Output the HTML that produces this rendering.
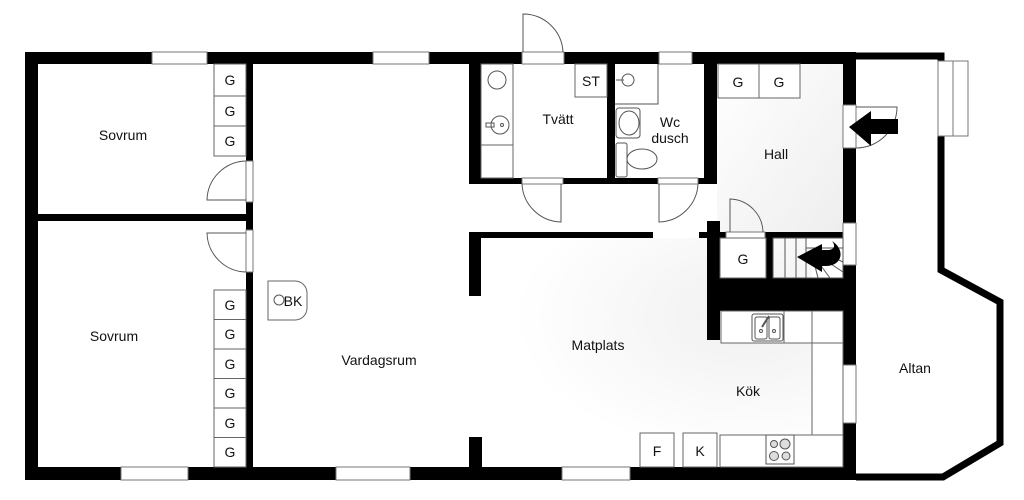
<!DOCTYPE html>
<html><head><meta charset="utf-8"><style>
html,body{margin:0;padding:0;background:#fff;width:1024px;height:500px;overflow:hidden}
svg{display:block}
text{font-family:"Liberation Sans",sans-serif;fill:#111}
</style></head><body>
<svg width="1024" height="500" viewBox="0 0 1024 500" xmlns="http://www.w3.org/2000/svg">
<defs>
<linearGradient id="g1" x1="0" y1="0" x2="1" y2="1">
<stop offset="0" stop-color="#fff"/><stop offset="1" stop-color="#eee"/></linearGradient>
<radialGradient id="g2" cx="0.8" cy="0.4" r="0.7">
<stop offset="0" stop-color="#f0f0f0"/><stop offset="1" stop-color="#fff"/></radialGradient>
</defs>
<rect x="717" y="64" width="126" height="168" fill="url(#g1)"/>
<rect x="482" y="238" width="330" height="197" fill="url(#g2)"/>
<g fill="#000">
<rect x="25" y="52" width="831" height="12"/>
<rect x="25" y="52" width="13" height="428"/>
<rect x="25" y="467" width="831" height="13"/>
<rect x="843" y="52" width="13" height="428"/>
<rect x="246" y="64" width="7" height="403"/>
<rect x="38" y="214" width="215" height="7"/>
<rect x="469" y="64" width="12" height="120"/>
<rect x="469" y="178" width="248" height="6"/>
<rect x="607" y="64" width="8" height="120"/>
<rect x="704" y="64" width="13" height="120"/>
<rect x="469" y="232" width="12" height="64"/>
<rect x="469" y="232" width="184" height="6"/>
<rect x="469" y="437" width="13" height="30"/>
<rect x="699" y="232" width="144" height="6"/>
<rect x="707" y="221" width="13" height="119"/>
<rect x="766" y="238" width="7" height="40"/>
<rect x="707" y="278" width="149" height="33"/>
</g>
<g fill="#fff" stroke="#777" stroke-width="1">
<rect x="152" y="52" width="55" height="12"/>
<rect x="373" y="52" width="56" height="12"/>
<rect x="659" y="52" width="33" height="12"/>
<rect x="121" y="467" width="67" height="13"/>
<rect x="336" y="467" width="74" height="13"/>
<rect x="562" y="467" width="68" height="13"/>
<rect x="843" y="105" width="13" height="43"/>
<rect x="843" y="223" width="13" height="42"/>
<rect x="843" y="365" width="13" height="58"/>
<rect x="246" y="161" width="7" height="41"/>
<rect x="246" y="230" width="7" height="42"/>
<rect x="522" y="52" width="42" height="12"/>
<rect x="522" y="178" width="41" height="6"/>
<rect x="658" y="178" width="40" height="6"/>
<rect x="726" y="232" width="39" height="6"/>
</g>
<g fill="none" stroke="#555" stroke-width="1">
<path d="M246 161 A40 40 0 0 0 207 200 L246 200"/>
<path d="M246 272 A40 40 0 0 1 207 233 L246 233"/>
<path d="M523 52 L523 14 A40 40 0 0 1 563 52"/>
<path d="M561 184 L561 222 A40 40 0 0 1 522 184"/>
<path d="M659 184 L659 222 A40 40 0 0 0 698 184"/>
<path d="M730 232 L730 199 A34 34 0 0 1 763 232"/>
<path d="M856 107 L897 107 A41 41 0 0 1 856 148"/>
</g>
<path d="M849 127 L871 111 L871 119 L898 119 L898 134 L871 134 L871 146 Z" fill="#000"/>
<path d="M856 56 L941 56 L941 270 L1000 302 L1000 443 L943 477 L856 477" fill="none" stroke="#000" stroke-width="7"/>
<g fill="#fff" stroke="#777"><rect x="938" y="61" width="15" height="75"/><rect x="953" y="61" width="15" height="75"/></g>
<g fill="#fff" stroke="#666" stroke-width="1">
<rect x="214" y="64" width="32" height="32"/><rect x="214" y="96" width="32" height="30"/><rect x="214" y="126" width="32" height="30"/>
<rect x="214" y="290" width="32" height="29.5"/><rect x="214" y="319.5" width="32" height="29.5"/><rect x="214" y="349" width="32" height="29.5"/>
<rect x="214" y="378.5" width="32" height="29.5"/><rect x="214" y="408" width="32" height="29.5"/><rect x="214" y="437.5" width="32" height="29.5"/>
<rect x="718" y="64" width="41" height="34"/><rect x="759" y="64" width="41" height="34"/>
<rect x="720" y="238" width="46" height="40"/>
<rect x="575" y="64" width="32" height="33"/>
<rect x="481" y="64" width="32" height="114"/>
<line x1="481" y1="145" x2="513" y2="145"/>
<path d="M268 281 L295 281 A12 12 0 0 1 307 293 L307 308 A12 12 0 0 1 295 320 L268 320 Z"/>
<rect x="721" y="311" width="122" height="32"/>
<line x1="784" y1="311" x2="784" y2="343"/><line x1="812" y1="311" x2="812" y2="435"/>
<rect x="812" y="343" width="31" height="92"/>
<rect x="720" y="435" width="123" height="32"/>
<rect x="640" y="433" width="34" height="34"/><rect x="683" y="433" width="34" height="34"/>
</g>
<g fill="none" stroke="#555" stroke-width="1">
<rect x="752" y="314" width="31" height="27" rx="2"/>
<rect x="755" y="317" width="12" height="22" rx="2"/><rect x="769" y="317" width="11" height="22" rx="2"/>
<line x1="762" y1="327" x2="769" y2="316" stroke-width="2"/>
<circle cx="761" cy="331" r="1.5"/><circle cx="774" cy="331" r="1.5"/>
<rect x="766" y="435" width="28" height="29" fill="#fff"/>
<circle cx="774" cy="444" r="3.5" fill="#ddd"/><circle cx="785" cy="444" r="5" fill="#ddd"/>
<circle cx="774" cy="456" r="4.5" fill="#ddd"/><circle cx="786" cy="456" r="4" fill="#ddd"/>
<circle cx="497" cy="80" r="9"/><circle cx="500" cy="125" r="9"/>
<rect x="486" y="123" width="8" height="4"/><circle cx="502" cy="125" r="1.5"/>
<polyline points="615,104 658,104 658,64"/>
<circle cx="628" cy="80" r="6"/><line x1="616" y1="80" x2="624" y2="80"/>
<rect x="616" y="108" width="24" height="30" rx="3"/>
<ellipse cx="629" cy="123" rx="10" ry="12"/>
<rect x="616" y="143" width="11" height="34" rx="2"/>
<ellipse cx="642" cy="159" rx="15" ry="10"/>
<circle cx="279" cy="300" r="5"/>
<rect x="773" y="238" width="70" height="40"/>
<line x1="785" y1="238" x2="785" y2="278"/><line x1="796" y1="238" x2="796" y2="278"/><line x1="806" y1="238" x2="806" y2="278"/>
<line x1="813" y1="248" x2="843" y2="262"/><line x1="813" y1="252" x2="843" y2="272"/>
<line x1="813" y1="255" x2="830" y2="278"/><line x1="813" y1="258" x2="818" y2="278"/>
<rect x="806" y="238" width="37" height="10" fill="#fff"/>
</g>
<path d="M832 241 C846 250 842 266 826 266 L822 266 L822 272 L797 257 L822 244 L822 250 L828 250 C834 250 836 246 832 241 Z" fill="#000"/>
<g font-size="14" text-anchor="middle">
<text x="123" y="140">Sovrum</text>
<text x="114" y="341">Sovrum</text>
<text x="379" y="365">Vardagsrum</text>
<text x="598" y="350">Matplats</text>
<text x="748" y="396">Kök</text>
<text x="915" y="373">Altan</text>
<text x="776" y="159">Hall</text>
<text x="558" y="124">Tvätt</text>
<text x="670" y="127">Wc</text>
<text x="670" y="143">dusch</text>
<text x="591" y="86">ST</text>
<text x="293" y="306">BK</text>
<text x="657" y="456">F</text>
<text x="700" y="456">K</text>
<text x="738" y="87">G</text><text x="779" y="87">G</text>
<text x="743" y="264">G</text>
<text x="230" y="85">G</text><text x="230" y="116">G</text><text x="230" y="146">G</text>
<text x="230" y="310">G</text><text x="230" y="339">G</text><text x="230" y="369">G</text>
<text x="230" y="398">G</text><text x="230" y="428">G</text><text x="230" y="457">G</text>
</g>
</svg>
</body></html>
